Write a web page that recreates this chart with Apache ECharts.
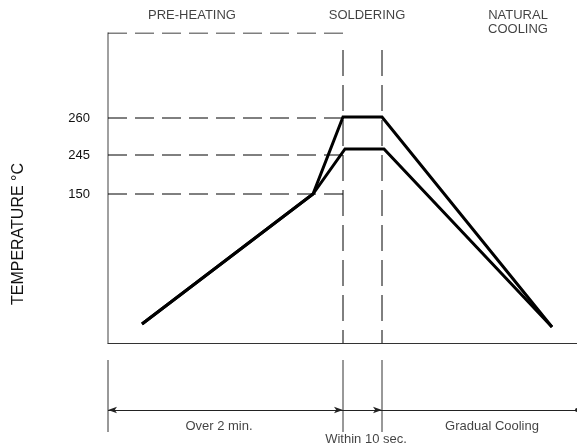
<!DOCTYPE html>
<html>
<head>
<meta charset="utf-8">
<script src="https://cdn.jsdelivr.net/npm/echarts@6/dist/echarts.min.js"></script>
<style>
html,body{margin:0;padding:0;background:#fff;}
#chart{width:577px;height:448px;}
</style>
</head>
<body>
<div id="chart"></div>
<script>
// Schematic coordinates (time units along x, level units along y)
const phaseNames = ['PRE-HEATING', 'SOLDERING', 'NATURAL\nCOOLING'];
const phaseCenters = [84, 259, 410];
const tempLabels = ['260', '245', '150'];
const tempLevels = [225, 188, 149];
const topLevel = 310;
const outerX = [34, 205, 235, 274, 444];
const outerY = [19, 149, 226, 226, 16];
const innerX = [34, 205, 237, 276, 444];
const innerY = [19, 149, 194, 194, 16];
const solderStart = 235;
const solderEnd = 274;
const solderGuideTop = 293;
const timeMax = 469;
const durationNotes = ['Over 2 min.', 'Within 10 sec.', 'Gradual Cooling'];
const durationX = [111, 258, 384];
const durationY = [22, 9, 22];
const dimTicksX = [0, 235, 274];

const font = 'Liberation Sans, Arial, sans-serif';
const chart = echarts.init(document.getElementById('chart'));

const zip = (xs, ys) => xs.map((x, i) => [x, ys[i]]);
const dashStyle = {color: '#000', width: 1, type: [19, 8]};

const series = [];
// horizontal dashed guides
[topLevel].concat(tempLevels).forEach(lv => {
  series.push({type: 'line', xAxisIndex: 0, yAxisIndex: 0, symbol: 'none', silent: true,
    data: [[0, lv], [solderStart, lv]], lineStyle: dashStyle, z: 2});
});
// vertical dashed guides
[solderStart, solderEnd].forEach(x => {
  series.push({type: 'line', xAxisIndex: 0, yAxisIndex: 0, symbol: 'none', silent: true,
    data: [[x, solderGuideTop], [x, 0]], lineStyle: {color: '#000', width: 1, type: [26, 9]}, z: 2});
});
// profiles
series.push({type: 'line', name: 'outer', xAxisIndex: 0, yAxisIndex: 0, symbol: 'none',
  data: zip(outerX, outerY), lineStyle: {color: '#000', width: 3, join: 'miter'}, z: 5});
series.push({type: 'line', name: 'inner', xAxisIndex: 0, yAxisIndex: 0, symbol: 'none',
  data: zip(innerX, innerY), lineStyle: {color: '#000', width: 3, join: 'miter'}, z: 5});
// phase headers
series.push({type: 'scatter', xAxisIndex: 0, yAxisIndex: 0, symbolSize: 0, clip: false, silent: true,
  data: phaseCenters.map((x, i) => ({value: [x, 335], label: {formatter: phaseNames[i]}})),
  label: {show: true, position: 'inside', align: 'center', verticalAlign: 'top',
    fontFamily: font, fontSize: 13, lineHeight: 14, color: '#111'}});

// lower grid: duration ticks
dimTicksX.forEach(x => {
  series.push({type: 'line', xAxisIndex: 1, yAxisIndex: 1, symbol: 'none', silent: true,
    data: [[x, 88], [x, 16]], lineStyle: {color: '#333', width: 1}});
});
// dimension line with arrows
series.push({type: 'line', xAxisIndex: 1, yAxisIndex: 1, symbol: 'none', silent: true, data: [],
  markLine: {silent: true, symbolSize: [5, 9], label: {show: false},
    lineStyle: {color: '#222', width: 1, type: 'solid'},
    data: [
      [{coord: [0, 38], symbol: 'arrow'}, {coord: [solderStart, 38], symbol: 'arrow'}],
      [{coord: [solderStart, 38], symbol: 'none'}, {coord: [solderEnd, 38], symbol: 'arrow'}],
      [{coord: [solderEnd, 38], symbol: 'none'}, {coord: [timeMax, 38], symbol: 'circle', symbolSize: 4}]
    ]}});
series.push({type: 'scatter', xAxisIndex: 1, yAxisIndex: 1, symbolSize: 0, clip: false, silent: true,
  data: durationX.map((x, i) => ({value: [x, durationY[i]], label: {formatter: durationNotes[i]}})),
  label: {show: true, position: 'inside', align: 'center', verticalAlign: 'middle',
    fontFamily: font, fontSize: 13, color: '#111'}});

chart.setOption({
  animation: false,
  backgroundColor: '#fff',
  grid: [
    {left: 108, right: 0, top: 33, height: 310},
    {left: 108, right: 0, top: 343, height: 105}
  ],
  xAxis: [
    {type: 'value', gridIndex: 0, min: 0, max: timeMax,
      axisLine: {show: true, lineStyle: {color: '#333', width: 1.2}},
      axisTick: {show: false}, axisLabel: {show: false}, splitLine: {show: false}},
    {type: 'value', gridIndex: 1, min: 0, max: timeMax, show: false}
  ],
  yAxis: [
    {type: 'value', gridIndex: 0, min: 0, max: topLevel,
      name: 'TEMPERATURE °C', nameLocation: 'middle', nameRotate: 90, nameGap: 81,
      nameTextStyle: {fontFamily: font, fontSize: 16, color: '#111', padding: [0, 92, 0, 0]},
      axisLine: {show: true, lineStyle: {color: '#808080', width: 1.5}},
      axisTick: {show: false}, splitLine: {show: false},
      axisLabel: {show: true, customValues: tempLevels, margin: 18,
        fontFamily: font, fontSize: 13, color: '#111',
        formatter: v => tempLabels[tempLevels.indexOf(v)] || ''}},
    {type: 'value', gridIndex: 1, min: 0, max: 105, show: false}
  ],
  series: series
});
</script>
</body>
</html>
